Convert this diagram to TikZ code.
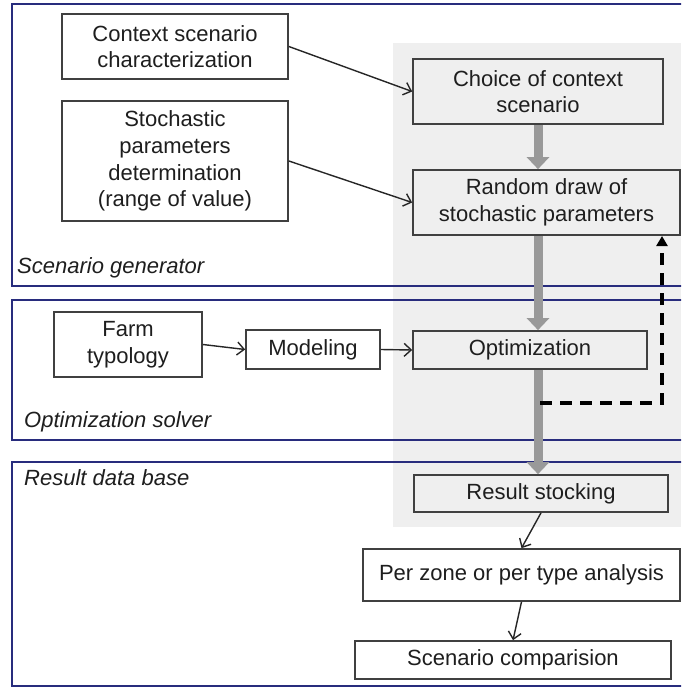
\documentclass[tikz,border=0pt]{standalone}
\usepackage{fontspec}
\setmainfont{Liberation Sans}
\usetikzlibrary{arrows.meta,calc}
\definecolor{framecol}{RGB}{40,44,125}
\definecolor{bandgray}{RGB}{239,239,239}
\definecolor{boxline}{RGB}{64,64,64}
\definecolor{flowgray}{RGB}{153,153,153}
\definecolor{txt}{RGB}{30,30,30}
\begin{document}
\begin{tikzpicture}[x=1pt,y=-1pt,
  every node/.style={font=\fontsize{22}{26.7}\selectfont, text=txt},
  wbox/.style={draw=boxline, line width=1.7pt, fill=white, align=center, inner sep=0pt},
  gbox/.style={draw=boxline, line width=1.7pt, fill=bandgray, align=center, inner sep=0pt},
  frame/.style={draw=framecol, line width=2.6pt},
  thinarrow/.style={draw=black!85, line width=1.4pt, -{Straight Barb[length=7pt,width=13pt,line width=1.4pt]}},
  flowarrow/.style={draw=flowgray, line width=9pt, -{Triangle[length=12pt,width=22pt]}},
  looparrow/.style={draw=black, line width=3.4pt, dash pattern=on 12pt off 8pt, -{Triangle[length=10pt,width=11pt]}},
  seclabel/.style={anchor=west, font=\itshape\fontsize{22}{26.7}\selectfont, inner sep=0pt}
]
\useasboundingbox (0,0) rectangle (681,688);
\clip (0,0) rectangle (681,688);
\fill[white] (0,0) rectangle (681,688);
% gray band
\fill[bandgray] (393,43) rectangle (681,527);
% section frames
\draw[frame] (12,4) rectangle (700,286);
\draw[frame] (12,300) rectangle (700,440);
\draw[frame] (12,462) rectangle (700,686);
\node[seclabel] (lab1) at (17,268) {Scenario generator};
\node[seclabel] (lab2) at (24,422) {Optimization solver};
\node[seclabel] (lab3) at (24,478) {Result data base};
% boxes
\node[wbox, minimum width=226pt, minimum height=65pt] (ctx) at (175,46.5) {Context scenario\\characterization};
\node[wbox, minimum width=226pt, minimum height=120pt] (stoch) at (175,161) {Stochastic\\parameters\\determination\\(range of value)};
\node[gbox, minimum width=250pt, minimum height=65pt] (choice) at (538,91.5) {Choice of context\\scenario};
\node[gbox, minimum width=267pt, minimum height=65pt] (rand) at (546.5,202.5) {Random draw of\\stochastic parameters};
\node[wbox, minimum width=148pt, minimum height=65pt] (farm) at (128,344.5) {Farm\\typology};
\node[wbox, minimum width=134pt, minimum height=39pt] (model) at (313,349.5) {Modeling};
\node[gbox, minimum width=234pt, minimum height=38pt] (optim) at (530,350) {Optimization};
\node[gbox, minimum width=254pt, minimum height=37pt] (result) at (541,493.5) {Result stocking};
\node[wbox, minimum width=317pt, minimum height=52pt] (perzone) at (521.5,575) {Per zone or per type analysis};
\node[wbox, minimum width=316pt, minimum height=38pt] (scomp) at (513,660) {Scenario comparision};
% coordinates
\coordinate (flowx) at (538,0);
\coordinate (loopA) at (540,403);
\coordinate (loopTop) at (662,236);
% thin arrows
\draw[thinarrow] (ctx.east) -- (choice.west);
\draw[thinarrow] (stoch.east) -- (rand.west);
\draw[thinarrow] (farm.east) -- (model.west);
\draw[thinarrow] (model.east) -- (optim.west);
\draw[thinarrow] (result.south) -- (perzone.north);
\draw[thinarrow] (perzone.south) -- (scomp.north);
% thick flow arrows
\draw[flowarrow] (flowx |- choice.south) -- (flowx |- rand.north);
\draw[flowarrow] (flowx |- rand.south) -- (flowx |- optim.north);
\draw[flowarrow] (flowx |- optim.south) -- (flowx |- result.north);
% loop back
\draw[looparrow] (loopA) -| (loopTop);
\end{tikzpicture}
\end{document}
